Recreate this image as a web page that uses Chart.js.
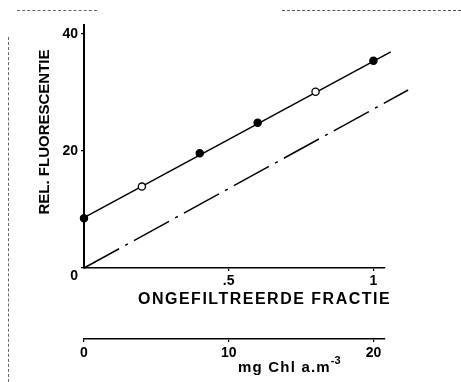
<!DOCTYPE html>
<html><head><meta charset="utf-8">
<script src="https://cdn.jsdelivr.net/npm/chart.js@4"></script>
<style>
html,body{margin:0;padding:0;background:#fff;}
#wrap{position:relative;width:461px;height:382px;overflow:hidden;}
canvas{display:block;}
.scan{position:absolute;}
</style></head><body>
<div id="wrap">
<canvas id="c" width="461" height="382"></canvas>
<div class="scan" style="left:17px;top:10px;width:80px;border-top:1px dashed #666;"></div>
<div class="scan" style="left:282px;top:10px;width:179px;border-top:1px dashed #555;"></div>
<div class="scan" style="left:8px;top:37px;height:345px;border-left:1px dashed #666;"></div>
</div>
<script>
// ---- data ----
const fraction = [0, 0.2, 0.4, 0.6, 0.8, 1.0];
const fluorescence = [8.5, 13.9, 19.6, 24.8, 30.1, 35.4];
const fitX = [0, 1.06];
const fitY = [8.6, 36.9];
const refX = [0, 1.12];
const refY = [0, 30.4];
const yTicks = [0, 20, 40];
const xTicks = [0.5, 1];
const xTickLabels = ['.5', '1'];
const chlTicks = [0, 10, 20];
const chlTickLabels = ['0', '10', '20'];
const yTitle = 'REL. FLUORESCENTIE';
const xTitle = 'ONGEFILTREERDE FRACTIE';
const chlTitle = 'mg Chl a.m';
const chlTitleSup = '-3';

const FONT = '"Liberation Sans", Arial, Helvetica, sans-serif';

const titlePlugin = {
  id: 'titles',
  afterDraw(chart) {
    const ctx = chart.ctx;
    const a = chart.chartArea;
    ctx.save();
    ctx.fillStyle = '#000';
    // y title
    ctx.save();
    ctx.font = 'bold 15px ' + FONT;
    ctx.translate(a.left - 39, a.top + 107);
    ctx.rotate(-Math.PI / 2);
    ctx.textAlign = 'center';
    ctx.textBaseline = 'middle';
    ctx.fillText(yTitle, 0, 0);
    ctx.restore();
    // x title
    ctx.font = 'bold 16px ' + FONT;
    ctx.letterSpacing = '1.5px';
    ctx.textAlign = 'left';
    ctx.textBaseline = 'middle';
    ctx.fillText(xTitle, a.left + 54, a.bottom + 32);
    // chl title
    ctx.font = 'bold 15px ' + FONT;
    ctx.letterSpacing = '1.2px';
    const x0 = a.left + 154, y0 = a.bottom + 100;
    ctx.fillText(chlTitle, x0, y0);
    const w = ctx.measureText(chlTitle).width;
    ctx.font = 'bold 11px ' + FONT;
    ctx.letterSpacing = '0px';
    ctx.fillText(chlTitleSup, x0 + w, y0 - 7);
    ctx.restore();
  }
};

const tickFont = {family: FONT, size: 14, weight: 'bold'};

new Chart(document.getElementById('c'), {
  type: 'scatter',
  data: {
    datasets: [
      {
        label: 'metingen',
        data: fraction.map((x, i) => ({x: x, y: fluorescence[i]})),
        showLine: false,
        pointRadius: 3.6,
        pointBorderWidth: 1.3,
        pointBorderColor: '#000',
        pointBackgroundColor: ['#000', '#fff', '#000', '#000', '#fff', '#000'],
        clip: false
      },
      {
        label: 'regressie',
        data: fitX.map((x, i) => ({x: x, y: fitY[i]})),
        showLine: true,
        borderColor: '#000',
        borderWidth: 1.5,
        pointRadius: 0,
        clip: false
      },
      {
        label: 'referentie',
        data: refX.map((x, i) => ({x: x, y: refY[i]})),
        showLine: true,
        borderColor: '#000',
        borderWidth: 1.5,
        borderDash: [40, 7, 3, 7],
        pointRadius: 0,
        clip: false
      }
    ]
  },
  options: {
    responsive: false,
    animation: false,
    layout: {padding: {top: 25, right: 76, left: 0, bottom: 0}},
    plugins: {legend: {display: false}, tooltip: {enabled: false}},
    scales: {
      x: {
        type: 'linear', position: 'bottom', weight: 0,
        min: 0, max: 1.04,
        border: {display: true, color: '#000', width: 1.6},
        grid: {drawOnChartArea: false, drawTicks: true, tickLength: 3, color: '#000', lineWidth: 1.2},
        afterBuildTicks: s => { s.ticks = xTicks.map(v => ({value: v})); },
        afterFit: s => { s.height = 71; },
        ticks: {
          color: '#000', font: tickFont, padding: 2, maxRotation: 0, autoSkip: false,
          callback: v => xTickLabels[xTicks.indexOf(v)]
        }
      },
      x2: {
        type: 'linear', position: 'bottom', weight: 1,
        min: 0, max: 20.8,
        border: {display: true, color: '#000', width: 1.6},
        grid: {drawOnChartArea: false, drawTicks: true, tickLength: 3, color: '#000', lineWidth: 1.2},
        afterBuildTicks: s => { s.ticks = chlTicks.map(v => ({value: v})); },
        afterFit: s => { s.height = 43; },
        ticks: {
          color: '#000', font: tickFont, padding: 3, maxRotation: 0, autoSkip: false,
          callback: v => chlTickLabels[chlTicks.indexOf(v)]
        }
      },
      y: {
        type: 'linear', position: 'left',
        min: 0, max: 41.5,
        border: {display: true, color: '#000', width: 2},
        grid: {drawOnChartArea: false, drawTicks: true, tickLength: 3, color: '#000', lineWidth: 1.2},
        afterBuildTicks: s => { s.ticks = yTicks.map(v => ({value: v})); },
        afterFit: s => { s.width = 84; },
        ticks: {
          color: '#000', font: tickFont, padding: 3,
          callback: v => v === 0 ? ['', '0'] : String(v)
        }
      }
    }
  },
  plugins: [titlePlugin]
});
</script>
</body></html>
